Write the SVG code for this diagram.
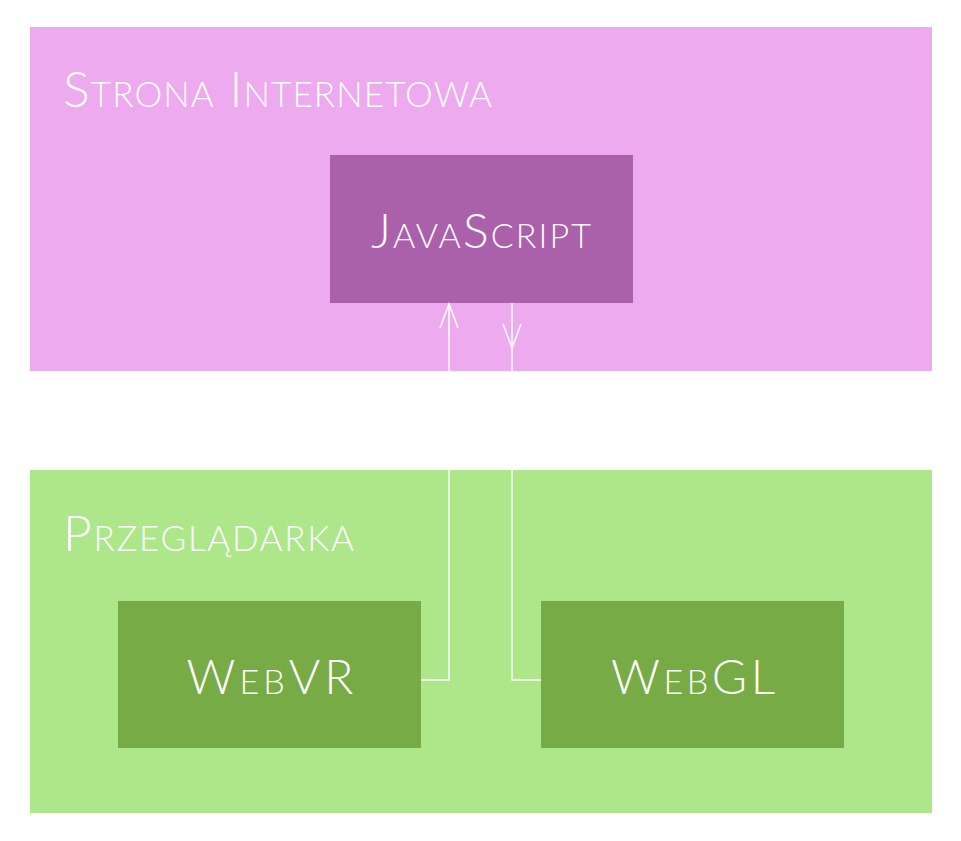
<svg xmlns="http://www.w3.org/2000/svg" width="961" height="841" viewBox="0 0 961 841">
<style>
.t{font-family:Lato,"Open Sans","Liberation Sans",sans-serif;font-weight:300;font-variant:small-caps;fill:#ffffff}
.grp{font-size:50px}
.nd{font-size:48px;text-anchor:middle}
.ln{fill:none;stroke:#ffffff;stroke-width:1.5}
</style>
<rect width="961" height="841" fill="#ffffff"/>
<g id="strona">
<rect x="30" y="27" width="902" height="344" fill="#eeaaee"/>
<text class="t grp" x="63" y="107" textLength="429" lengthAdjust="spacing">Strona Internetowa</text>
</g>
<g id="przegladarka">
<rect x="30" y="470" width="902" height="343" fill="#aee68a"/>
<text class="t grp" x="63" y="551" textLength="291" lengthAdjust="spacing">Przeglądarka</text>
</g>
<g id="javascript">
<rect x="330" y="155" width="303" height="148" fill="#ab60ab"/>
<text class="t nd" x="481" y="248" textLength="220" lengthAdjust="spacing">JavaScript</text>
</g>
<g id="webvr">
<rect x="118" y="601" width="303" height="147" fill="#77ab45"/>
<text class="t nd" x="270" y="694" textLength="167" lengthAdjust="spacing">WebVR</text>
</g>
<g id="webgl">
<rect x="541" y="601" width="303" height="147" fill="#77ab45"/>
<text class="t nd" x="693" y="694" textLength="164" lengthAdjust="spacing">WebGL</text>
</g>
<g id="connectors">
<polyline class="ln" points="421,680 449,680 449,304"/>
<polyline class="ln" points="440,328 449,304 458,328"/>
<polyline class="ln" points="512,303 512,680 541,680"/>
<polyline class="ln" points="503,324 512,348 521,324"/>
</g>
</svg>
